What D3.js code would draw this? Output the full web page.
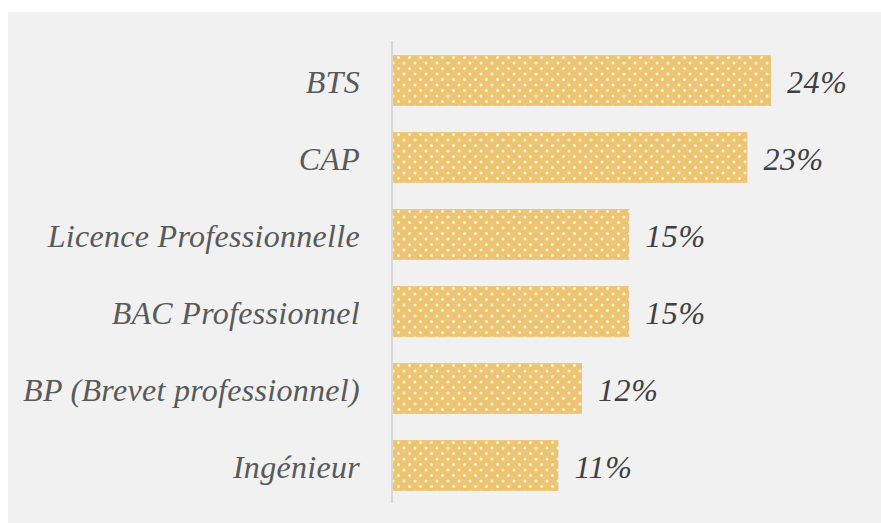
<!DOCTYPE html>
<html>
<head>
<meta charset="utf-8">
<script src="https://cdn.jsdelivr.net/npm/d3@7"></script>
<style>
  body { margin: 0; background: #fff; }
  svg text { font-family: "Liberation Serif", "Times New Roman", serif; font-style: italic; }
</style>
</head>
<body>
<div id="chart"></div>
<script>
var categories = ["BTS", "CAP", "Licence Professionnelle", "BAC Professionnel", "BP (Brevet professionnel)", "Ingénieur"];
var values = [24, 22.5, 15, 15, 12, 10.5];

var width = 881, height = 523;

var svg = d3.select("#chart").append("svg")
            .attr("width", width)
            .attr("height", height);

// dotted fill like the original
var defs = svg.append("defs");
var pat = defs.append("pattern")
              .attr("id", "dots")
              .attr("patternUnits", "userSpaceOnUse")
              .attr("width", 11)
              .attr("height", 11);
pat.append("rect").attr("width", 11).attr("height", 11).attr("fill", "#edc472");
pat.append("circle").attr("cx", 2.5).attr("cy", 2.5).attr("r", 1.5).attr("fill", "#fdf4de");
pat.append("circle").attr("cx", 8).attr("cy", 8).attr("r", 1.5).attr("fill", "#fdf4de");

svg.append("rect")
   .attr("x", 8)
   .attr("y", 12)
   .attr("width", width - 8)
   .attr("height", height - 12)
   .attr("fill", "#f1f1f1");

var x = d3.scaleLinear()
          .domain([0, 24])
          .range([393, 771]);

var y = d3.scaleBand()
          .domain(categories)
          .range([42, 504])
          .paddingInner(0.34)
          .paddingOuter(0.17);

svg.selectAll("rect.bar")
   .data(values)
   .enter().append("rect")
   .attr("class", "bar")
   .attr("x", x(0))
   .attr("y", (d, i) => y(categories[i]))
   .attr("width", d => x(d) - x(0))
   .attr("height", y.bandwidth())
   .attr("fill", "url(#dots)");

svg.append("line")
   .attr("x1", x(0) - 1)
   .attr("x2", x(0) - 1)
   .attr("y1", 41)
   .attr("y2", 503)
   .attr("stroke", "#d9d9d9")
   .attr("stroke-width", 2);

svg.selectAll("text.cat")
   .data(categories)
   .enter().append("text")
   .attr("class", "cat")
   .attr("x", 360)
   .attr("y", d => y(d) + y.bandwidth() / 2)
   .attr("dy", "0.38em")
   .attr("text-anchor", "end")
   .attr("fill", "#595959")
   .style("font-size", "32px")
   .style("letter-spacing", "0.3px")
   .text(d => d);

svg.selectAll("text.val")
   .data(values)
   .enter().append("text")
   .attr("class", "val")
   .attr("x", d => x(d) + 16)
   .attr("y", (d, i) => y(categories[i]) + y.bandwidth() / 2)
   .attr("dy", "0.38em")
   .attr("fill", "#404040")
   .style("font-size", "32px")
   .style("letter-spacing", "0.6px")
   .text(d => Math.round(d) + "%");
</script>
</body>
</html>
